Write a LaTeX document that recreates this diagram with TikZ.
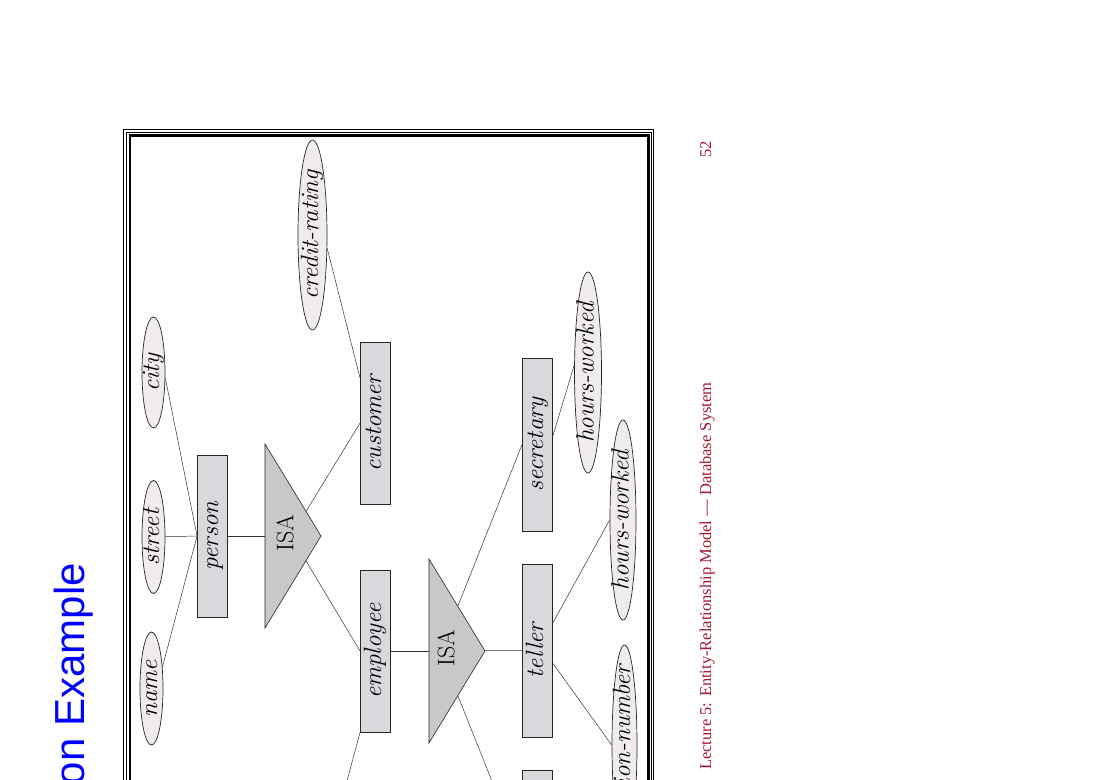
\documentclass[tikz,border=0pt]{standalone}
\usepackage{fontspec}
\usepackage{graphicx}
\newfontfamily\slidesans{Liberation Sans}
\newfontfamily\slideserif{Liberation Serif}
\definecolor{entfill}{RGB}{216,216,221}
\definecolor{attfill}{RGB}{239,235,239}
\definecolor{isafill}{RGB}{200,200,200}
\definecolor{footred}{RGB}{165,22,52}
\usetikzlibrary{shapes.geometric}
\newcommand{\vlabel}[1]{\rotatebox{90}{\makebox[0pt]{\raisebox{-.22em}[0pt][0pt]{#1}}}}

\begin{document}
\begin{tikzpicture}[x=1pt,y=-1pt]

    \tikzset{
      entity/.style={
        rectangle,
        draw=black!85,
        line width=0.9pt,
        fill=entfill,
        inner sep=0pt,
        minimum width=30pt,
        minimum height=162pt,
        font=\fontsize{25}{30}\selectfont\itshape,
      },
      attrib/.style={
        ellipse,
        draw=black!85,
        line width=0.7pt,
        fill=attfill,
        inner sep=0pt,
        font=\fontsize{25}{30}\selectfont\itshape,
      },
      isa/.style={draw=black!85,line width=0.6pt,fill=isafill},
      isatext/.style={inner sep=0pt,font=\fontsize{24}{28}\selectfont},
      link/.style={draw=black!80,line width=0.5pt},
    }
    \useasboundingbox (0,0) rectangle (1100,779);
    \clip (0,0) rectangle (1100,779);
	% slide frame
	\draw[line width=1.2pt] (123.8,129.8) rectangle (653.8,900);
	\draw[line width=1pt] (126.6,132.6) rectangle (651.4,900);
	\draw[line width=2.4pt] (129.8,135.4) rectangle (648.3,900);
	% entities
	\node[entity] (person) at (212.5,536) {\vlabel{person}};
	\node[entity] (customer) at (375.5,423) {\vlabel{customer}};
	\node[entity] (employee) at (375.5,651) {\vlabel{employee}};
	\node[entity,minimum height=173pt] (secretary) at (537.5,444.5) {\vlabel{secretary}};
	\node[entity,minimum height=173pt] (teller) at (537.5,650.5) {\vlabel{teller}};
	\node[entity,minimum height=173pt] (officer) at (537.5,856.5) {};
	% attributes
	\node[attrib,minimum width=29pt,minimum height=190pt] (credit) at (312.5,235) {\vlabel{credit-rating}};
	\node[attrib,minimum width=23pt,minimum height=111pt] (city) at (153.5,372.5) {\vlabel{city}};
	\node[attrib,minimum width=23pt,minimum height=113pt] (street) at (153.5,537) {\vlabel{street}};
	\node[attrib,minimum width=23pt,minimum height=113pt] (name) at (151.5,688.5) {\vlabel{name}};
	\node[attrib,minimum width=27pt,minimum height=201pt] (hw1) at (588,372.5) {\vlabel{hours-worked}};
	\node[attrib,minimum width=26pt,minimum height=200pt] (hw2) at (623,520) {\vlabel{hours-worked}};
	\node[attrib,minimum width=25pt,minimum height=200pt] (station) at (624.5,745) {\vlabel{station-number}};
	\coordinate (isa1) at (291,536);
	\coordinate (isa2) at (440,651);
	\coordinate (empout) at (315,900);
	% connectors
	\draw[link] (city.-25) -- (person.west);
	\draw[link] (street) -- (person.west);
	\draw[link] (name.63) -- (person.west);
	\draw[link] (credit.-42) -- (customer.109);
	\draw[link] (person) -- (isa1);
	\draw[link] (isa1) -- (customer.west);
	\draw[link] (isa1) -- (employee.west);
	\draw[link] (employee.south west) -- (empout);
	\draw[link] (employee) -- (isa2);
	\draw[link] (isa2) -- (secretary.west);
	\draw[link] (isa2) -- (teller.west);
	\draw[link] (isa2) -- (officer.west);
	\draw[link] (secretary.30) -- (hw1.152);
	\draw[link] (teller.61) -- (hw2.west);
	\draw[link] (teller.-40) -- (station.west);
	% ISA triangles
	\draw[isa] (265,444) -- (321,536) -- (265,628) -- cycle;
	\draw[isa] (429,559) -- (485,651) -- (429,743) -- cycle;
	\node[isatext] (isalabel1) at (288,533) {\vlabel{ISA}};
	\node[isatext] (isalabel2) at (449,648) {\vlabel{ISA}};
	% slide title and footer
	\node[rotate=90,anchor=base east,inner sep=0pt,text=blue,font=\slidesans\fontsize{42}{50}\selectfont] (title) at (84,563) {on Example};
	\node[rotate=90,anchor=base west,inner sep=0pt,text=footred,font=\slideserif\fontsize{16.5}{19}\selectfont] (footer) at (711,770) {Lecture 5: Entity-Relationship Model — Database System};
	\node[rotate=90,anchor=base west,inner sep=0pt,text=footred,font=\slideserif\fontsize{16.5}{19}\selectfont] (pageno) at (711,158) {52};

\end{tikzpicture}
\end{document}
